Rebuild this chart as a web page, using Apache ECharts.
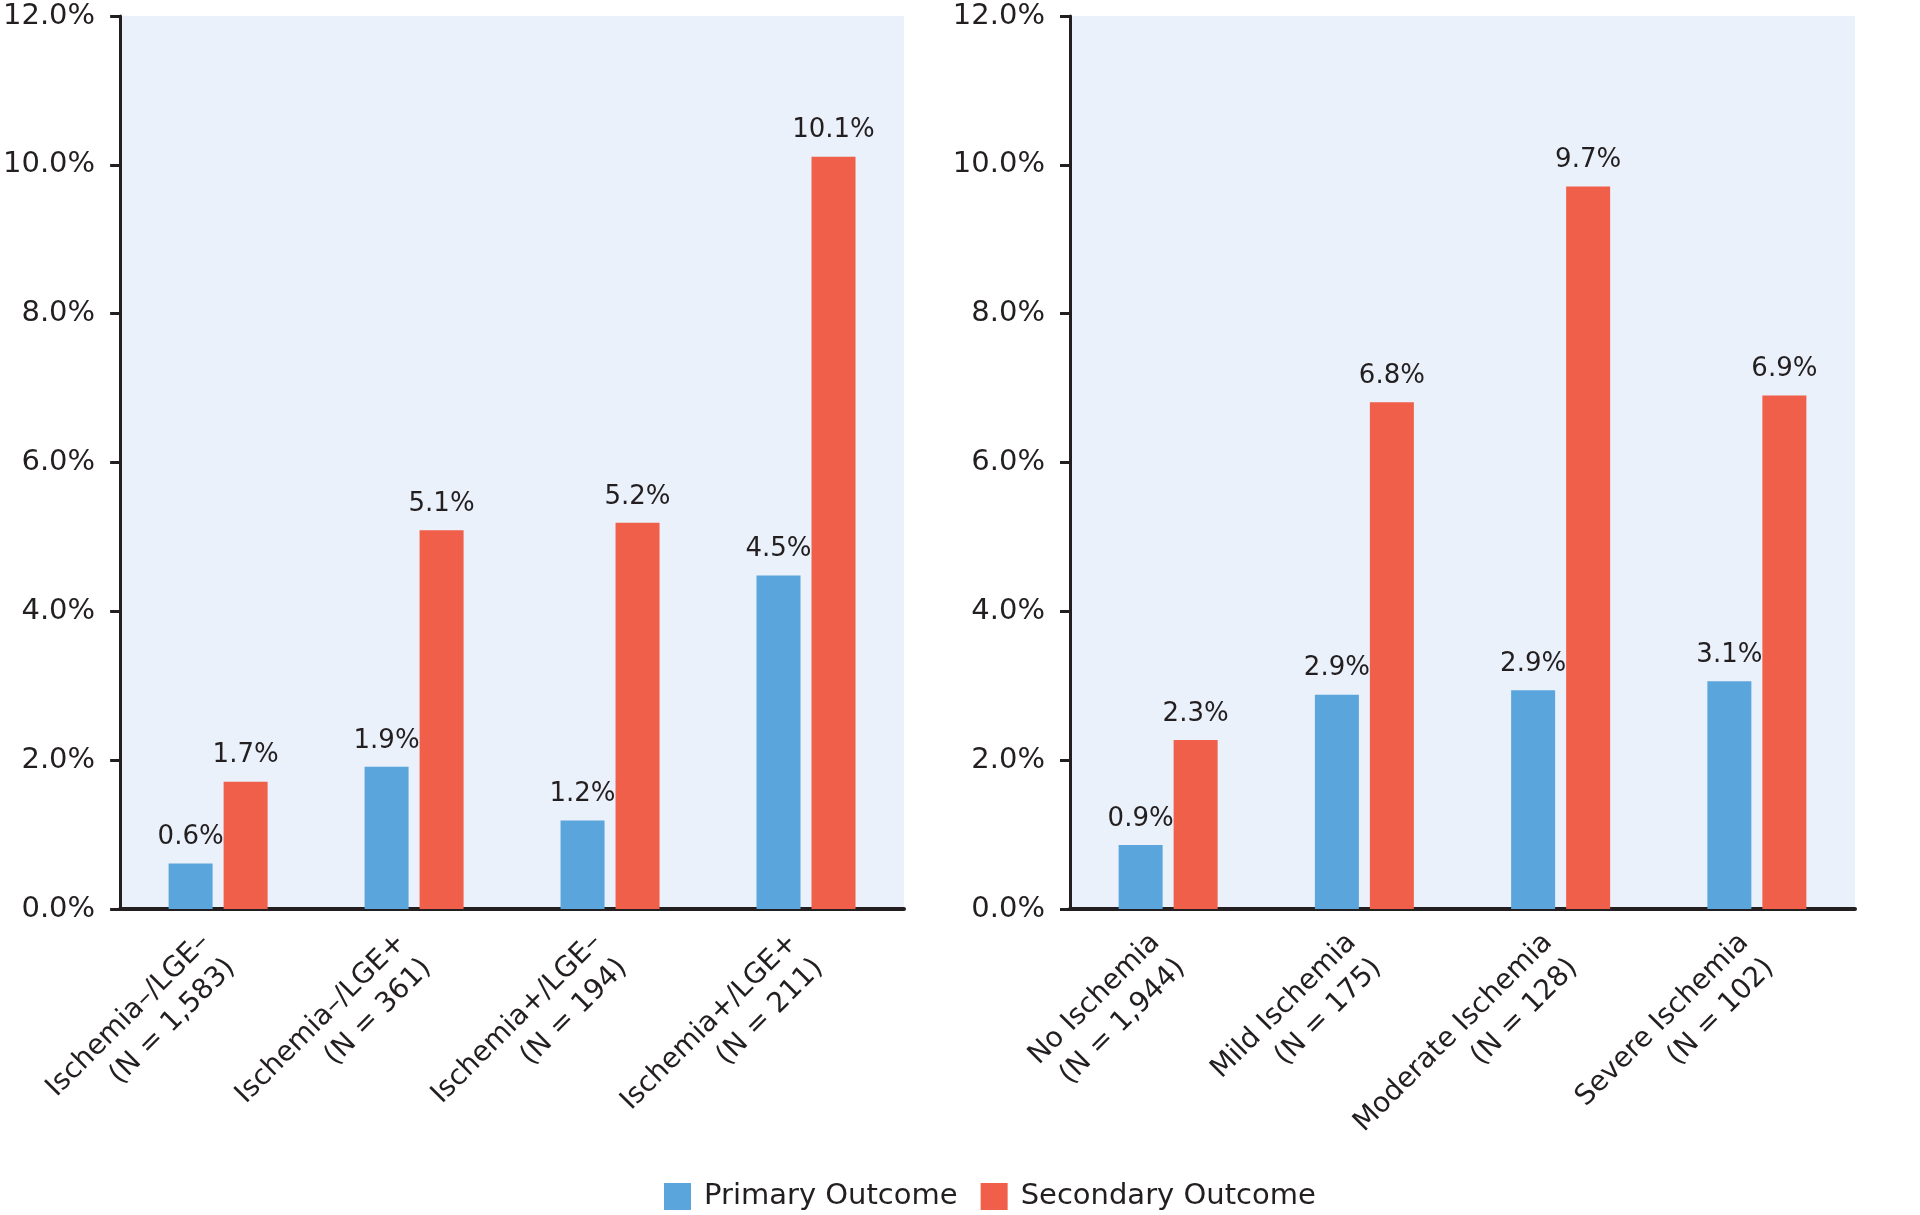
<!DOCTYPE html>
<html><head><meta charset="utf-8">
<script src="https://cdn.jsdelivr.net/npm/echarts@6/dist/echarts.min.js"></script>
<style>html,body{margin:0;padding:0;background:#fff}#c{width:1920px;height:1215px}</style>
</head><body><div id="c"></div>
<script>
const leftCategories = ['Ischemia–/LGE–\n(N = 1,583)', 'Ischemia–/LGE+\n(N = 361)', 'Ischemia+/LGE–\n(N = 194)', 'Ischemia+/LGE+\n(N = 211)'];
const rightCategories = ['No Ischemia\n(N = 1,944)', 'Mild Ischemia\n(N = 175)', 'Moderate Ischemia\n(N = 128)', 'Severe Ischemia\n(N = 102)'];
const leftPrimary = [0.61, 1.91, 1.19, 4.48];
const leftSecondary = [1.71, 5.09, 5.19, 10.11];
const rightPrimary = [0.86, 2.88, 2.94, 3.06];
const rightSecondary = [2.27, 6.81, 9.71, 6.90];
const seriesNames = ['Primary Outcome', 'Secondary Outcome'];
const yTicks = { min: 0, max: 12, interval: 2 };

const INK = '#231F20';
const BLUE = '#5AA5DC';
const RED = '#F05F4A';
const FONT = 'DejaVu Sans';

const chart = echarts.init(document.getElementById('c'), null, { renderer: 'canvas' });

function xAxis(idx, cats) {
  return {
    type: 'category', gridIndex: idx, data: cats,
    axisLine: { show: true, lineStyle: { color: INK, width: 4 } },
    axisTick: { show: false },
    axisLabel: {
      rotate: 45, margin: 42, interval: 0,
      fontSize: 28, lineHeight: 36, fontFamily: FONT, color: INK
    }
  };
}
function yAxis(idx) {
  return {
    type: 'value', gridIndex: idx, min: yTicks.min, max: yTicks.max, interval: yTicks.interval,
    axisLine: { show: true, lineStyle: { color: INK, width: 3 } },
    axisTick: { show: true, length: 10, lineStyle: { color: INK, width: 3 } },
    splitLine: { show: false },
    axisLabel: { formatter: v => v.toFixed(1) + '%', fontSize: 29, fontFamily: FONT, color: INK, margin: 25 }
  };
}
function bar(name, data, idx, color) {
  return {
    name, type: 'bar', xAxisIndex: idx, yAxisIndex: idx, data,
    barWidth: 44, barGap: '25%',
    itemStyle: { color },
    label: { show: true, position: 'top', distance: 13, formatter: p => p.value.toFixed(1) + '%',
      fontSize: 26, fontFamily: FONT, color: INK }
  };
}

chart.setOption({
  animation: false,
  textStyle: { fontFamily: FONT },
  grid: [
    { left: 120, top: 16, width: 784, height: 893, show: true, backgroundColor: '#EAF1FA', borderWidth: 0 },
    { left: 1070, top: 16, width: 785, height: 893, show: true, backgroundColor: '#EAF1FA', borderWidth: 0 }
  ],
  legend: {
    data: seriesNames, left: 659, top: 1177, padding: 5, itemWidth: 27, itemHeight: 27, itemGap: 23,
    icon: 'rect', textStyle: { fontSize: 29, lineHeight: 27, fontFamily: FONT, color: INK, padding: [0, 0, 0, 8] }
  },
  xAxis: [xAxis(0, leftCategories), xAxis(1, rightCategories)],
  yAxis: [yAxis(0), yAxis(1)],
  series: [
    bar(seriesNames[0], leftPrimary, 0, BLUE),
    bar(seriesNames[1], leftSecondary, 0, RED),
    bar(seriesNames[0], rightPrimary, 1, BLUE),
    bar(seriesNames[1], rightSecondary, 1, RED)
  ]
});
</script></body></html>
